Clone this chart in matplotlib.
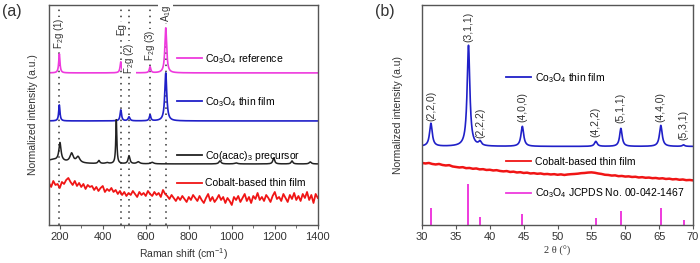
import numpy as np
import matplotlib
matplotlib.use("Agg")
import matplotlib.pyplot as plt
from matplotlib.lines import Line2D
from matplotlib.legend import Legend

plt.rcParams['font.family'] = ['Liberation Sans', 'DejaVu Sans']
plt.rcParams['mathtext.fontset'] = 'custom'
plt.rcParams['mathtext.rm'] = 'Liberation Sans'
plt.rcParams['font.size'] = 7.5

# ---- panel (a): Raman peak tables (position cm-1, height, half width) ----
raman_modes = [198, 484, 522, 620, 693]
mode_labels = ['F$_2$g (1)', 'Eg', 'F$_2$g (2)', 'F$_2$g (3)', 'A$_1$g']
mode_label_top = [207, 202, 183, 195, 220]

ref_base = 152
ref_heights = [19, 11, 5, 6, 45]
ref_widths = [3.5, 4, 4, 4, 5]

film_base = 104
film_heights = [16, 11, 4, 6, 48]
film_widths = [3.5, 4, 5, 4, 5.5]

prec_base = 61
prec_pos = [170, 201, 255, 285, 382, 420, 463, 522, 565, 630, 945, 1020, 1195, 1280, 1365]
prec_heights = [4, 18, 9, 6, 3, 1, 44, 8, 2, 1.5, 3, 1, 6, 3, 2]
prec_widths = [60, 6, 9, 10, 5, 8, 3, 5, 8, 8, 6, 8, 5, 5, 6]

# cobalt-based film, read every 10 cm-1 from 150 to 1400
cobalt_raman = [42, 38, 44, 40, 41, 37, 43, 41, 45, 47,
                43, 40, 44, 39, 42, 38, 41, 36, 40, 38,
                39, 35, 38, 34, 37, 39, 33, 36, 34, 37,
                33, 35, 31, 34, 30, 33, 29, 32, 30, 34,
                31, 28, 33, 30, 32, 29, 34, 31, 29, 33,
                30, 32, 28, 35, 31, 29, 26, 30, 27, 24,
                28, 25, 29, 26, 23, 28, 25, 30, 27, 24,
                29, 25, 22, 27, 31, 24, 28, 23, 26, 30,
                25, 28, 22, 27, 24, 20, 28, 25, 29, 23,
                27, 31, 24, 28, 22, 29, 26, 32, 25, 28,
                24, 30, 27, 23, 29, 33, 26, 28, 24, 31,
                27, 23, 30, 26, 32, 25, 29, 24, 31, 27,
                33, 25, 30, 22, 31, 27]

# ---- panel (b): XRD ----
hkl_pos = [31.3, 36.85, 38.55, 44.8, 55.65, 59.35, 65.25, 68.6]
hkl_labels = ['(2,2,0)', '(3,1,1)', '(2,2,2)', '(4,0,0)', '(4,2,2)', '(5,1,1)', '(4,4,0)', '(5,3,1)']
hkl_label_bottom = [104, 183, 87, 103, 88, 102, 103, 85]
xrd_base = 78.5
xrd_heights = [23, 101, 4, 20, 5, 18, 21, 1.5]
xrd_widths = [0.24, 0.24, 0.24, 0.24, 0.24, 0.22, 0.24, 0.2]
jcpds_heights = [17, 41, 8, 11, 7, 14, 17, 5]

# cobalt-based film XRD, read every 0.5 deg from 30 to 70
cobalt_xrd = [62, 61.5, 62, 61, 60.5, 61, 60, 59.5, 59.8, 58.5,
              58, 57.5, 57.8, 56.8, 57, 56.2, 56.5, 55.6, 55.8, 55,
              55.2, 54.5, 54.8, 54, 53.6, 53.9, 53, 53.3, 52.5, 52.8,
              52, 52.3, 51.5, 51.8, 51.2, 51.5, 50.8, 51, 50.5, 50.8,
              50.2, 50.6, 50, 50.5, 50.8, 51, 51.3, 51.8, 52, 52.4,
              52.6, 52.2, 51.5, 51, 50.2, 50, 49.4, 49.6, 48.8, 49,
              48.4, 48.6, 48, 48.2, 47.5, 47.8, 47.2, 47.4, 46.8, 47,
              46.4, 46.7, 46, 46.3, 45.6, 45.9, 45.2, 45.5, 44.8, 45,
              44.6]

MAGENTA = '#EE3ADD'
BLUE = '#2020C8'
BLACK = '#222222'
RED = '#F01515'
SPINE = '#555555'


def spectrum(x, base, pos, heights, widths):
    y = np.full_like(x, float(base))
    for p, h, w in zip(pos, heights, widths):
        y += h * w ** 2 / ((x - p) ** 2 + w ** 2)
    return y


def style_axes(ax):
    for s in ax.spines.values():
        s.set_color(SPINE)
        s.set_linewidth(1.0)
    ax.tick_params(axis='x', direction='out', length=3, color=SPINE, labelcolor='#333333',
                   pad=2, labelsize=8)
    ax.tick_params(axis='x', which='minor', direction='out', length=2, color=SPINE)
    ax.set_yticks([])


def add_label(ax, handle_color, text, x, y, gap=0.3):
    # one legend per trace, placed next to it
    leg = Legend(ax, [Line2D([0], [0], color=handle_color, lw=1.3)], [text],
                 loc='center left', bbox_to_anchor=(x, y), frameon=False,
                 borderaxespad=0, borderpad=0, handlelength=2.4, handletextpad=gap,
                 fontsize=7.5)
    ax.add_artist(leg)


fig = plt.figure(figsize=(7, 2.63), dpi=100)
ax1 = fig.add_axes([0.07, 0.1445, 0.384, 0.837])
ax2 = fig.add_axes([0.603, 0.1445, 0.387, 0.837])

# ---------- (a) ----------
x_r = np.linspace(150, 1400, 2501)
x_c = np.arange(150, 1401, 10)
ax1.plot(x_r, spectrum(x_r, ref_base, raman_modes, ref_heights, ref_widths), color=MAGENTA, lw=1.2)
ax1.plot(x_r, spectrum(x_r, film_base, raman_modes, film_heights, film_widths), color=BLUE, lw=1.2)
ax1.plot(x_r, spectrum(x_r, prec_base, prec_pos, prec_heights, prec_widths), color=BLACK, lw=1.1)
ax1.plot(x_c, cobalt_raman, color=RED, lw=1.3)

for m, lab, top in zip(raman_modes, mode_labels, mode_label_top):
    ax1.axvline(m, color='#333333', lw=1.1, ls=(0, (1, 3)), zorder=0)
    ax1.text(m, top, lab, rotation=90, ha='center', va='top', fontsize=7, color='#333333',
             bbox=dict(fc='white', ec='none', pad=0.3))

ax1.set_xlim(150, 1400)
ax1.set_ylim(0, 220)
ax1.set_xticks(range(200, 1401, 200))
ax1.set_xticks(range(300, 1400, 200), minor=True)
style_axes(ax1)
ax1.set_xlabel('Raman shift (cm$^{-1}$)', color='#333333', labelpad=3)
ax1.set_ylabel('Normalized intensity (a.u.)', color='#333333', labelpad=8)

add_label(ax1, MAGENTA, 'Co$_3$O$_4$ reference', 0.475, 0.755)
add_label(ax1, BLUE, 'Co$_3$O$_4$ thin film', 0.475, 0.559)
add_label(ax1, BLACK, 'Co(acac)$_3$ precursor', 0.475, 0.314)
add_label(ax1, RED, 'Cobalt-based thin film', 0.475, 0.19)

# ---------- (b) ----------
x_x = np.linspace(30, 70, 4001)
x_cb = np.arange(30, 70.01, 0.5)
ax2.plot(x_x, spectrum(x_x, xrd_base, hkl_pos, xrd_heights, xrd_widths), color=BLUE, lw=1.2)
ax2.plot(x_cb, cobalt_xrd, color=RED, lw=1.8)
ax2.vlines(hkl_pos, 0, jcpds_heights, color=MAGENTA, lw=1.4)

for p, lab, b in zip(hkl_pos, hkl_labels, hkl_label_bottom):
    ax2.text(p, b, lab, rotation=90, ha='center', va='bottom', fontsize=7.5, color='#333333')

ax2.set_xlim(30, 70)
ax2.set_ylim(0, 220)
ax2.set_xticks(range(30, 71, 5))
style_axes(ax2)
ax2.set_xlabel('2 θ (°)', color='#333333', labelpad=3, family=['Liberation Serif', 'DejaVu Serif'])
ax2.set_ylabel('Normalized intensity (a.u)', color='#333333', labelpad=14)

add_label(ax2, BLUE, 'Co$_3$O$_4$ thin film', 0.31, 0.668, 0.4)
add_label(ax2, RED, 'Cobalt-based thin film', 0.31, 0.286, 0.4)
add_label(ax2, MAGENTA, 'Co$_3$O$_4$ JCPDS No. 00-042-1467', 0.31, 0.145, 0.4)

fig.text(0.003, 0.985, '(a)', fontsize=11.5, va='top', color='#333333')
fig.text(0.535, 0.985, '(b)', fontsize=11.5, va='top', color='#333333')

fig.savefig('out.png', dpi=100)
